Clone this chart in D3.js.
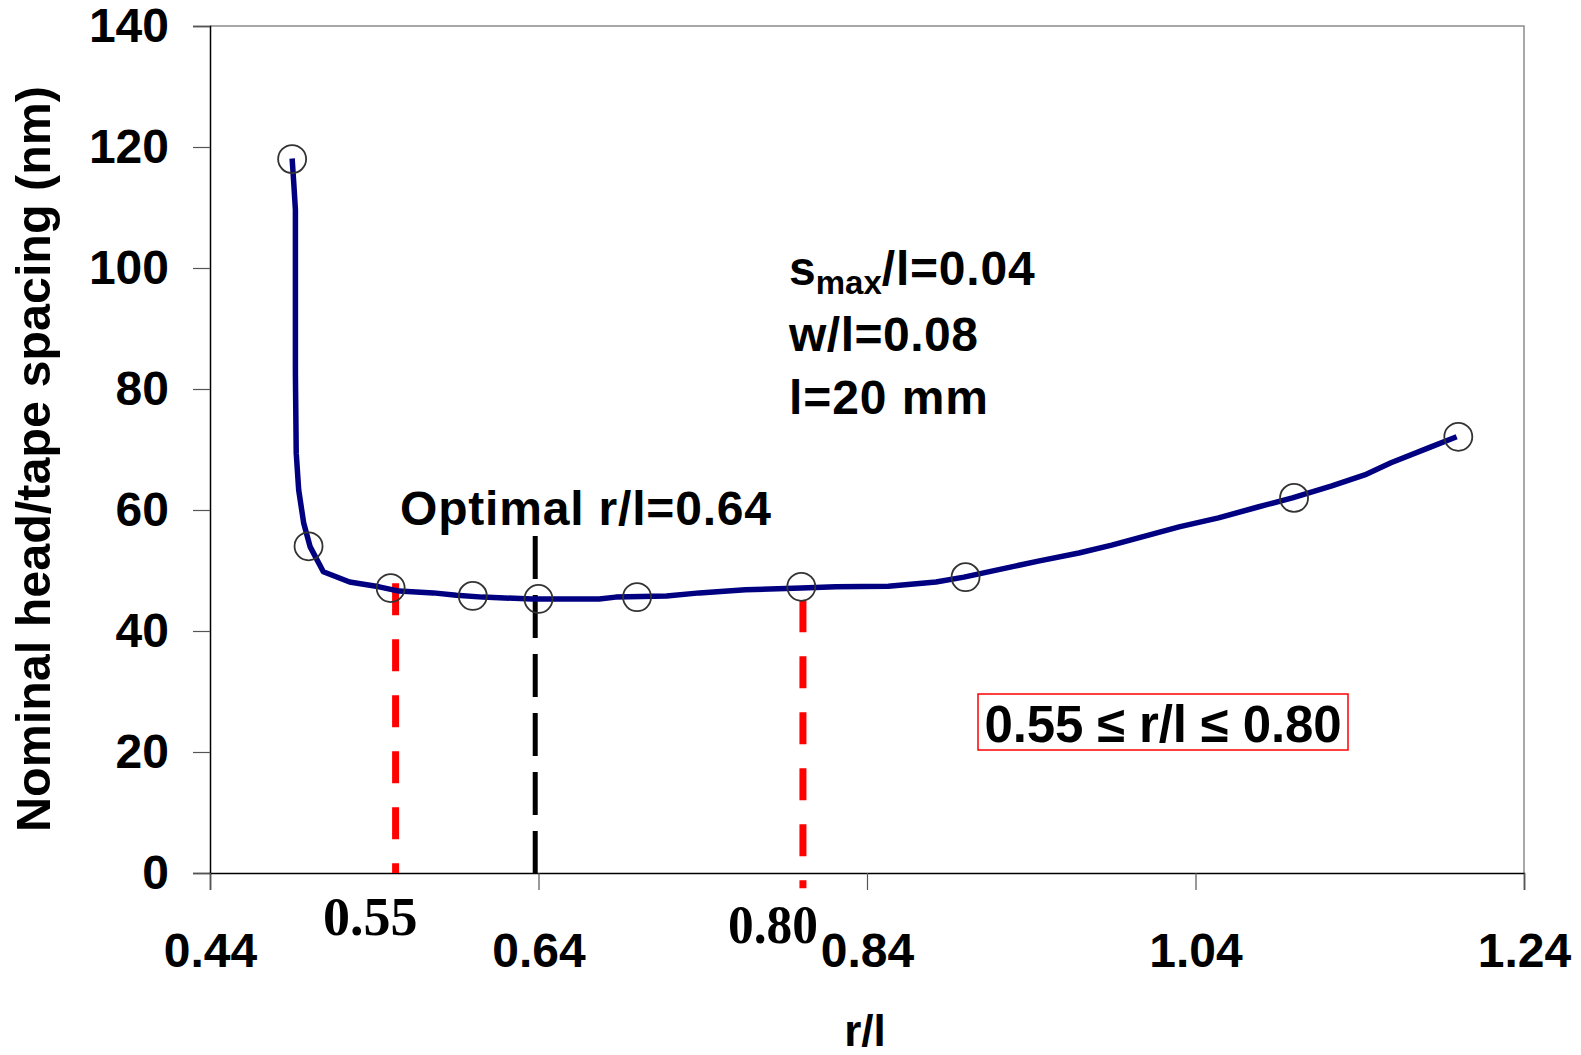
<!DOCTYPE html>
<html>
<head>
<meta charset="utf-8">
<script src="https://cdn.jsdelivr.net/npm/d3@7"></script>
<style>
  html, body { margin: 0; padding: 0; background: #fff; }
  svg { display: block; }
</style>
</head>
<body>
<div id="chart"></div>
<script>
// data
const curveX = [0.490, 0.491, 0.492, 0.492, 0.4925, 0.494, 0.497, 0.501, 0.509,
  0.525, 0.543, 0.555, 0.576, 0.590, 0.606, 0.616, 0.636, 0.677, 0.687, 0.718,
  0.738, 0.766, 0.800, 0.821, 0.853, 0.882, 0.899, 0.928, 0.945, 0.969, 0.989,
  1.030, 1.054, 1.078, 1.099, 1.123, 1.143, 1.159, 1.183, 1.199];
const curveY = [118.1, 114.0, 109.6, 82.6, 69.4, 63.3, 57.9, 53.9, 49.8,
  48.1, 47.3, 46.6, 46.3, 45.9, 45.6, 45.5, 45.3, 45.3, 45.6, 45.8,
  46.3, 46.8, 47.1, 47.3, 47.4, 48.1, 48.9, 50.6, 51.6, 52.9, 54.2,
  57.2, 58.7, 60.5, 62.0, 64.0, 65.8, 67.8, 70.4, 72.1];

const markerX = [0.49, 0.50, 0.55, 0.60, 0.64, 0.70, 0.80, 0.90, 1.10, 1.20];
const markerY = [118.0, 54.0, 47.1, 45.8, 45.3, 45.6, 47.3, 48.9, 62.0, 72.1];

const xTicks = [0.44, 0.64, 0.84, 1.04, 1.24];
const yTicks = [0, 20, 40, 60, 80, 100, 120, 140];

// vertical guide lines: x, top value, bottom value
const rangeLines = [
  {x: 0.553, top: 47.9, bottom: 0, color: 'red', label: '0.55'},
  {x: 0.801, top: 45.1, bottom: -2.5, color: 'red', label: '0.80'}
];
const optimalLine = {x: 0.638, top: 55.7, bottom: -0.7};

// layout
const width = 1581;
const height = 1055;
const plot = {left: 210, right: 1524, top: 26, bottom: 873};

const svg = d3.select('#chart')
    .append('svg')
    .attr('width', width)
    .attr('height', height)
    .attr('font-family', 'Liberation Sans, Arial, sans-serif')
    .attr('font-weight', 'bold');

const x = d3.scaleLinear().domain([0.44, 1.24]).range([plot.left, plot.right]);
const y = d3.scaleLinear().domain([0, 140]).range([plot.bottom, plot.top]);

// frame (top / right in grey)
svg.append('path')
    .attr('d', `M${plot.left},${plot.top}H${plot.right}V${plot.bottom}`)
    .attr('fill', 'none')
    .attr('stroke', '#8c8c8c')
    .attr('stroke-width', 1.5);

// axes
const yAxis = svg.append('g')
    .attr('transform', `translate(${plot.left},0)`)
    .call(d3.axisLeft(y).tickValues(yTicks).tickSize(17).tickPadding(24)
        .tickFormat(d3.format('d')));
yAxis.select('.domain').attr('stroke', '#000').attr('stroke-width', 1.5);
yAxis.selectAll('.tick line').attr('stroke', '#555').attr('stroke-width', 1.2);
yAxis.selectAll('.tick text')
    .attr('font-size', 48)
    .attr('font-family', 'Liberation Sans, Arial, sans-serif')
    .attr('font-weight', 'bold')
    .attr('fill', '#000');

const xAxis = svg.append('g')
    .attr('transform', `translate(0,${plot.bottom})`)
    .call(d3.axisBottom(x).tickValues(xTicks).tickSize(17).tickPadding(0)
        .tickFormat(d3.format('.2f')));
xAxis.select('.domain').attr('stroke', '#000').attr('stroke-width', 1.5);
xAxis.selectAll('.tick line').attr('stroke', '#555').attr('stroke-width', 1.2);
xAxis.selectAll('.tick text')
    .attr('y', 94)
    .attr('dy', 0)
    .attr('font-size', 48)
    .attr('font-family', 'Liberation Sans, Arial, sans-serif')
    .attr('font-weight', 'bold')
    .attr('fill', '#000');

// axis titles
svg.append('text')
    .attr('x', 865)
    .attr('y', 1046)
    .attr('text-anchor', 'middle')
    .attr('font-size', 44)
    .text('r/l');

svg.append('text')
    .attr('transform', 'translate(50,459) rotate(-90)')
    .attr('text-anchor', 'middle')
    .attr('font-size', 48)
    .attr('textLength', 746)
    .attr('lengthAdjust', 'spacingAndGlyphs')
    .text('Nominal head/tape spacing (nm)');

// guide lines
svg.selectAll('line.range')
    .data(rangeLines)
    .join('line')
    .attr('class', 'range')
    .attr('x1', (d) => x(d.x))
    .attr('x2', (d) => x(d.x))
    .attr('y1', (d) => y(d.top))
    .attr('y2', (d) => y(d.bottom))
    .attr('stroke', (d) => d.color)
    .attr('stroke-width', 7)
    .attr('stroke-dasharray', '32 24');

svg.append('line')
    .attr('x1', x(optimalLine.x))
    .attr('x2', x(optimalLine.x))
    .attr('y1', y(optimalLine.top))
    .attr('y2', y(optimalLine.bottom))
    .attr('stroke', '#000')
    .attr('stroke-width', 5)
    .attr('stroke-dasharray', '43 16');

// curve
const line = d3.line()
    .x((d) => x(d[0]))
    .y((d) => y(d[1]));

svg.append('path')
    .datum(d3.zip(curveX, curveY))
    .attr('d', line)
    .attr('fill', 'none')
    .attr('stroke', '#000080')
    .attr('stroke-width', 5.5)
    .attr('stroke-linejoin', 'round');

svg.selectAll('circle.marker')
    .data(d3.zip(markerX, markerY))
    .join('circle')
    .attr('class', 'marker')
    .attr('cx', (d) => x(d[0]))
    .attr('cy', (d) => y(d[1]))
    .attr('r', 14)
    .attr('fill', 'none')
    .attr('stroke', '#333')
    .attr('stroke-width', 1.8);

// serif labels under the range lines
svg.append('text')
    .attr('x', 323)
    .attr('y', 935)
    .attr('font-family', 'Liberation Serif, Times New Roman, serif')
    .attr('font-size', 54)
    .text(rangeLines[0].label);

svg.append('text')
    .attr('x', 728)
    .attr('y', 943)
    .attr('font-family', 'Liberation Serif, Times New Roman, serif')
    .attr('font-size', 54)
    .attr('textLength', 90)
    .attr('lengthAdjust', 'spacingAndGlyphs')
    .text(rangeLines[1].label);

// annotations
svg.append('text')
    .attr('x', 400)
    .attr('y', 525)
    .attr('font-size', 48)
    .attr('textLength', 371)
    .text('Optimal r/l=0.64');

const params = svg.append('g').attr('font-size', 48);
const t1 = params.append('text').attr('x', 789).attr('y', 285);
t1.append('tspan').text('s');
t1.append('tspan').attr('font-size', 33).attr('dy', 9).text('max');
t1.append('tspan').attr('dy', -9).attr('letter-spacing', 0.8).text('/l=0.04');
params.append('text').attr('x', 789).attr('y', 351)
    .attr('textLength', 189).text('w/l=0.08');
params.append('text').attr('x', 789).attr('y', 414)
    .attr('textLength', 199).text('l=20 mm');

svg.append('rect')
    .attr('x', 978)
    .attr('y', 694)
    .attr('width', 370)
    .attr('height', 56)
    .attr('fill', 'none')
    .attr('stroke', 'red')
    .attr('stroke-width', 1.5);

svg.append('text')
    .attr('x', 1163)
    .attr('y', 742)
    .attr('text-anchor', 'middle')
    .attr('font-size', 51)
    .attr('textLength', 357)
    .text('0.55 \u2264 r/l \u2264 0.80');
</script>
</body>
</html>
